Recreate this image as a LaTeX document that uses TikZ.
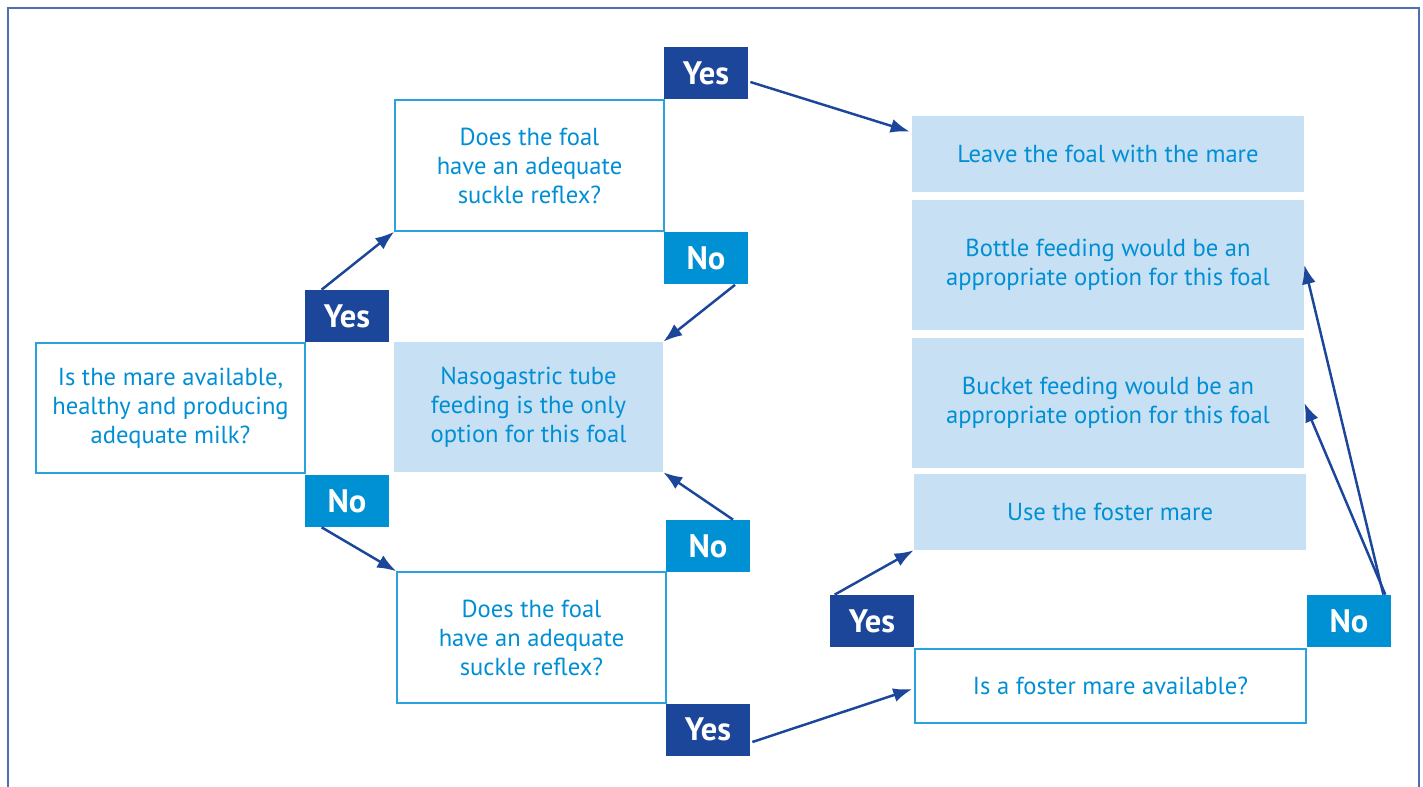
\documentclass[tikz,border=0pt]{standalone}
\usepackage{fontspec}
\setmainfont{PT Sans}
\usepackage{tikz}
\usetikzlibrary{arrows.meta, positioning, calc}
\definecolor{navy}{RGB}{27,70,153}
\definecolor{skyblue}{RGB}{0,144,212}
\definecolor{paleblue}{RGB}{200,224,243}
\definecolor{txtblue}{RGB}{0,143,212}
\definecolor{edgeblue}{RGB}{41,163,224}
\definecolor{framecol}{RGB}{80,110,180}
\tikzset{
    question/.style={draw=edgeblue, fill=white, line width=0.9pt, text=txtblue, align=center,
        minimum width=5.38cm, minimum height=2.6cm, inner sep=0pt, font=\fontsize{14}{16.5}\selectfont},
    answer/.style={fill=paleblue, text=txtblue, align=center,
        minimum width=7.84cm, minimum height=2.6cm, inner sep=0pt, font=\fontsize{14}{16.5}\selectfont},
    yesTag/.style={fill=navy, text=white, minimum width=1.68cm, minimum height=1.04cm,
        inner sep=0pt, font=\fontsize{18.5}{18.5}\selectfont\bfseries},
    noTag/.style={yesTag, fill=skyblue},
    flow/.style={-{Latex[length=3.8mm, width=2.8mm]}, draw=navy, line width=1.4pt}
}

\begin{document}
\begin{tikzpicture}
    \useasboundingbox (0,0) rectangle (28.46,-15.74);
    % --- outer frame, open at the bottom ---
    \draw[framecol, line width=1.1pt] (0.16,-15.8) -- (0.16,-0.16) -- (28.38,-0.16) -- (28.38,-15.8);

    % --- left column ---
    \node[question] (mare) at (3.41,-8.16) {Is the mare available,\\healthy and producing\\adequate milk?};
    \node[yesTag] (yesMare) at (6.94,-6.32) {Yes};
    \node[noTag] (noMare) at (6.94,-10.02) {No};

    % --- middle column ---
    \node[question, minimum height=2.62cm] (suckleTop) at (10.59,-3.31) {Does the foal\\have an adequate\\suckle reflex?};
    \node[yesTag] (yesTop) at (14.12,-1.46) {Yes};
    \node[noTag] (noTop) at (14.12,-5.17) {No};
    \node[answer, minimum width=5.38cm] (naso) at (10.57,-8.14) {Nasogastric tube\\feeding is the only\\option for this foal};
    \node[noTag] (noBot) at (14.16,-10.92) {No};
    \node[question, minimum height=2.62cm] (suckleBot) at (10.63,-12.75) {Does the foal\\have an adequate\\suckle reflex?};
    \node[yesTag] (yesBot) at (14.16,-14.59) {Yes};

    % --- right column ---
    \node[answer, minimum height=1.52cm] (leave) at (22.16,-3.08) {Leave the foal with the mare};
    \node[answer] (bottle) at (22.16,-5.30) {Bottle feeding would be an\\appropriate option for this foal};
    \node[answer] (bucket) at (22.16,-8.06) {Bucket feeding would be an\\appropriate option for this foal};
    \node[answer, minimum height=1.52cm] (foster) at (22.20,-10.24) {Use the foster mare};
    \node[yesTag] (yesFoster) at (17.44,-12.42) {Yes};
    \node[noTag] (noFoster) at (26.98,-12.42) {No};
    \node[question, minimum width=7.82cm, minimum height=1.48cm] (fosterQ) at (22.21,-13.72) {Is a foster mare available?};

    % --- connectors ---
    \draw[flow] ([shift={(0.34,0)}]yesMare.north west) -- (suckleTop.south west);
    \draw[flow] ([shift={(0.34,0)}]noMare.south west) -- (suckleBot.north west);
    \draw[flow] ([shift={(0.04,-0.18)}]yesTop.east) -- ([shift={(-0.04,-0.32)}]leave.north west);
    \draw[flow] ([shift={(0.58,0)}]noTop.south) -- (naso.north east);
    \draw[flow] ([shift={(0.5,0)}]noBot.north) -- (naso.south east);
    \draw[flow] ([shift={(0.04,-0.25)}]yesBot.east) -- ([shift={(-0.04,-0.06)}]fosterQ.west);
    \draw[flow] ([shift={(0.1,0)}]yesFoster.north west) -- (foster.south west);
    \draw[flow] ([shift={(-0.16,0)}]noFoster.north east) -- (bottle.east);
    \draw[flow] ([shift={(-0.12,0)}]noFoster.north east) -- (bucket.east);
\end{tikzpicture}
\end{document}
